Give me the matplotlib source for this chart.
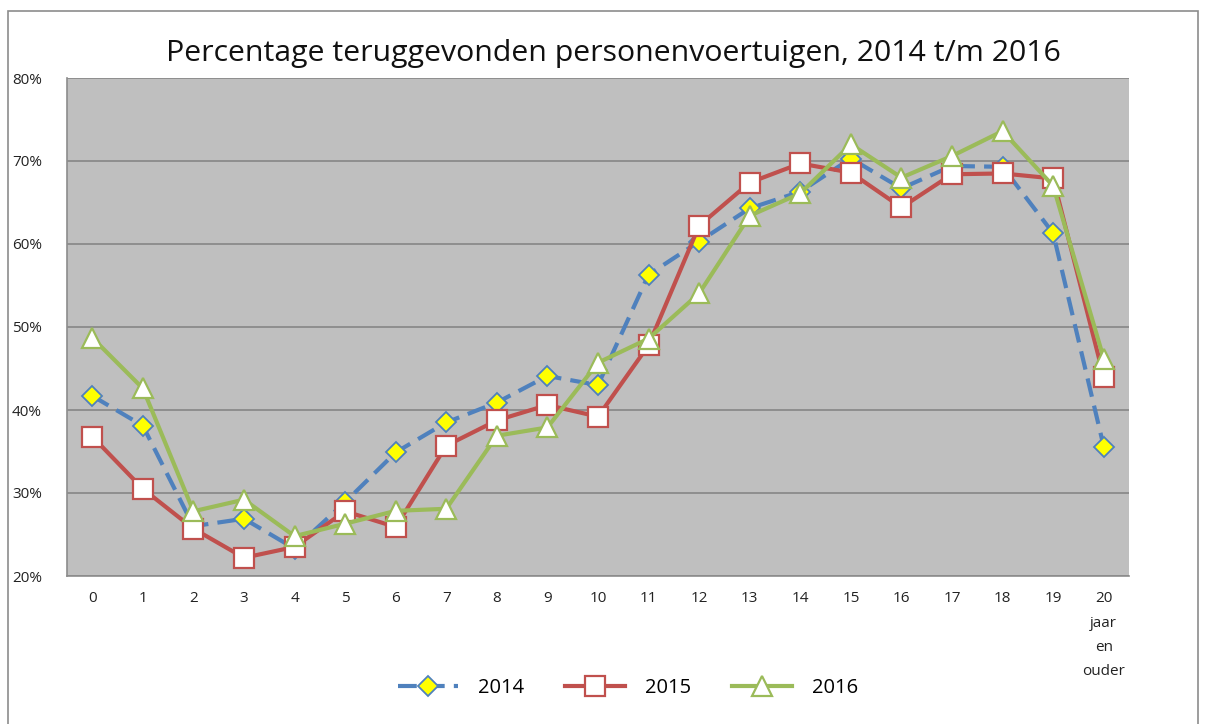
import matplotlib
matplotlib.use("Agg")
import matplotlib.pyplot as plt
from matplotlib.patches import Rectangle
from matplotlib.ticker import FuncFormatter

plt.rcParams['font.family'] = ['Open Sans', 'DejaVu Sans']

categories = [str(i) for i in range(20)] + ["20\njaar\nen\nouder"]
v2014 = [41.7, 38.1, 26.0, 26.9, 23.3, 28.9, 34.9, 38.5, 40.9, 44.1, 43.0,
         56.3, 60.3, 64.3, 66.3, 70.3, 66.7, 69.4, 69.3, 61.3, 35.6]
v2015 = [36.8, 30.5, 25.7, 22.2, 23.5, 27.8, 25.9, 35.7, 38.75, 40.6, 39.2,
         47.8, 62.2, 67.4, 69.7, 68.6, 64.4, 68.4, 68.5, 67.9, 44.0]
v2016 = [48.7, 42.6, 27.8, 29.2, 24.8, 26.3, 27.85, 28.1, 36.9, 37.9, 45.7,
         48.6, 54.05, 63.4, 66.1, 72.0, 68.0, 70.6, 73.6, 67.0, 46.2]
series_labels = ["2014", "2015", "2016"]
yticks = [20, 30, 40, 50, 60, 70, 80]

W, H = 1206, 724
fig = plt.figure(figsize=(W / 100, H / 100), dpi=100)
fig.patch.set_facecolor('white')
fig.patches.append(Rectangle((8 / W, -0.05), (1198 - 8) / W, 1 - 11 / H + 0.05,
                             transform=fig.transFigure, fill=False,
                             edgecolor='#8c8c8c', linewidth=1.2))

AX_L, AX_R, AX_T, AX_B = 67, 1129, 78, 576
ax = fig.add_axes([AX_L / W, 1 - AX_B / H, (AX_R - AX_L) / W, (AX_B - AX_T) / H])
ax.set_facecolor('#BFBFBF')
x = list(range(len(categories)))

ax.plot(x, v2014, color='#4F81BD', linewidth=3.0, dashes=(4.5, 2.2),
        marker='D', markersize=10.5, markerfacecolor='#FFFF00',
        markeredgecolor='#4F81BD', markeredgewidth=1.3, label=series_labels[0], zorder=3)
ax.plot(x, v2015, color='#C0504D', linewidth=3.0,
        marker='s', markersize=14, markerfacecolor='white',
        markeredgecolor='#C0504D', markeredgewidth=1.6, label=series_labels[1], zorder=4)
ax.plot(x, v2016, color='#9BBB59', linewidth=3.0,
        marker='^', markersize=15, markerfacecolor='white',
        markeredgecolor='#9BBB59', markeredgewidth=1.6, label=series_labels[2], zorder=5)

ax.set_xlim(-0.5, len(categories) - 0.5)
ax.set_ylim(20, 80)
ax.set_yticks(yticks)
ax.yaxis.set_major_formatter(FuncFormatter(lambda v, p: f"{int(v)}%"))
ax.set_xticks(x)
ax.set_xticklabels(categories, linespacing=1.85, va='top')
ax.tick_params(axis='both', length=0, labelsize=11, colors='#222222')
ax.tick_params(axis='x', pad=11)
ax.tick_params(axis='y', pad=0)
for lbl in ax.get_yticklabels():
    lbl.set_horizontalalignment('left')
    lbl.set_x((12 - AX_L) / (AX_R - AX_L))
ax.grid(axis='y', color='#868686', linewidth=1.2)
ax.set_axisbelow(True)
for s in ['top', 'right']:
    ax.spines[s].set_visible(False)
for s in ['left', 'bottom']:
    ax.spines[s].set_color('#8c8c8c')
    ax.spines[s].set_linewidth(1.2)

fig.text(613 / W, 1 - 61 / H, "Percentage teruggevonden personenvoertuigen, 2014 t/m 2016",
         ha='center', va='baseline', fontsize=21.8, color='#111111')

fig.legend(loc='center', bbox_to_anchor=(628 / W, 1 - 688 / H), ncol=3, frameon=False,
           fontsize=14.5, handlelength=3.0, columnspacing=2.0, handletextpad=1.0)

fig.savefig('out.png', dpi=100)
